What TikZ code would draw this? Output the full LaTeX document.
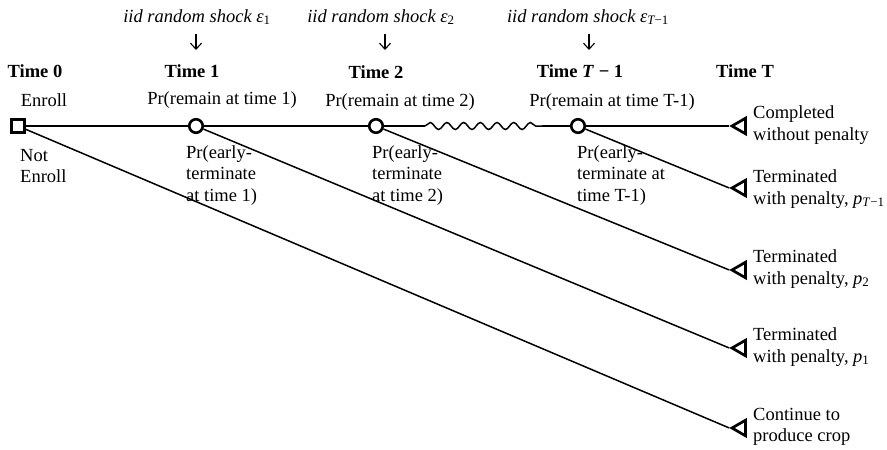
\documentclass[tikz,border=0pt]{standalone}
\usepackage{fontspec}
\setmainfont{Liberation Serif}
\usetikzlibrary{shapes.geometric,decorations.pathmorphing,arrows.meta}
\newcommand{\subsc}[1]{\textsubscript{#1}}
\begin{document}
\begin{tikzpicture}[x=1pt,y=-1pt,
  every node/.style={font=\fontsize{18.5}{21.5}\selectfont, inner sep=0pt},
  sq/.style={draw, line width=2.6pt, minimum size=13pt},
  circ/.style={circle, draw, line width=2.6pt, minimum size=13.5pt},
  tri/.style={regular polygon, regular polygon sides=3, shape border rotate=90, draw, line width=2.7pt, minimum size=18pt},
  conn/.style={line width=1.5pt},
  shock/.style={font=\itshape\fontsize{18.5}{21.5}\selectfont},
  tlabel/.style={font=\bfseries\fontsize{18.5}{21.5}\selectfont},
  txt/.style={align=left, anchor=west},
  sarrow/.style={line width=1.1pt, -{Straight Barb[length=6pt,width=11pt,line width=1.1pt]}}
]
\useasboundingbox (0,0) rectangle (887,450);
% decision/chance nodes
\node[sq] (s) at (18,126) {};
\node[circ] (c1) at (196,126) {};
\node[circ] (c2) at (376,126) {};
\node[circ] (c3) at (578,126) {};
% terminal nodes
\node[tri] (t1) at (741,126) {};
\node[tri] (t2) at (741,188) {};
\node[tri] (t3) at (741,270) {};
\node[tri] (t4) at (741,348) {};
\node[tri] (t5) at (741,428) {};
\coordinate (w1) at (425,126);
\coordinate (w2) at (542,126);
% connectors
\draw[conn] (s) -- (c1);
\draw[conn] (c1) -- (c2);
\draw[conn] (c2) -- (w1);
\draw[conn, decorate, decoration={snake, amplitude=3.5pt, segment length=16.7pt}] (w1) -- (w2);
\draw[conn] (w2) -- (c3);
\draw[conn] (c3) -- (t1.corner 1);
\draw[conn] (c3) -- (t2.corner 1);
\draw[conn] (c2) -- (t3.corner 1);
\draw[conn] (c1) -- (t4.corner 1);
\draw[conn] (s) -- (t5.corner 1);
% time labels
\node[tlabel] (tm0) at (35,71) {Time 0};
\node[tlabel] (tm1) at (192,71) {Time 1};
\node[tlabel] (tm2) at (376,72) {Time 2};
\node[tlabel] (tm3) at (580,71) {Time \textit{T} − 1};
\node[tlabel] (tm4) at (745,71) {Time T};
% shocks
\node[shock] (sh1) at (197,17) {iid random shock ε\subsc{\upshape 1}};
\node[shock] (sh2) at (381,17) {iid random shock ε\subsc{\upshape 2}};
\node[shock] (sh3) at (588,17) {iid random shock ε\subsc{T\upshape −1}};
\coordinate (a1s) at (196,34); \coordinate (a1e) at (196,50);
\coordinate (a2s) at (385,34); \coordinate (a2e) at (385,50);
\coordinate (a3s) at (589,34); \coordinate (a3e) at (589,50);
\draw[sarrow] (a1s) -- (a1e);
\draw[sarrow] (a2s) -- (a2e);
\draw[sarrow] (a3s) -- (a3e);
% node labels
\node (en) at (44,100) {Enroll};
\node[txt] (ne) at (20,166) {Not\\Enroll};
\node (r1) at (222,100) {Pr(remain at time 1)};
\node (r2) at (400,102) {Pr(remain at time 2)};
\node (r3) at (612,102) {Pr(remain at time T-1)};
\node[txt, anchor=north west] (e1) at (186,145) {Pr(early-\\terminate\\at time 1)};
\node[txt, anchor=north west] (e2) at (372,145) {Pr(early-\\terminate\\at time 2)};
\node[txt, anchor=north west] (e3) at (577,145) {Pr(early-\\terminate at\\time T-1)};
% outcome labels
\node[txt] (o1) at (753,125) {Completed\\without penalty};
\node[txt] (o2) at (753,189) {Terminated\\with penalty, \textit{p}\subsc{\textit{T}−1}};
\node[txt] (o3) at (753,269) {Terminated\\with penalty, \textit{p}\subsc{2}};
\node[txt] (o4) at (753,347) {Terminated\\with penalty, \textit{p}\subsc{1}};
\node[txt] (o5) at (753,427) {Continue to\\produce crop};
\end{tikzpicture}
\end{document}
